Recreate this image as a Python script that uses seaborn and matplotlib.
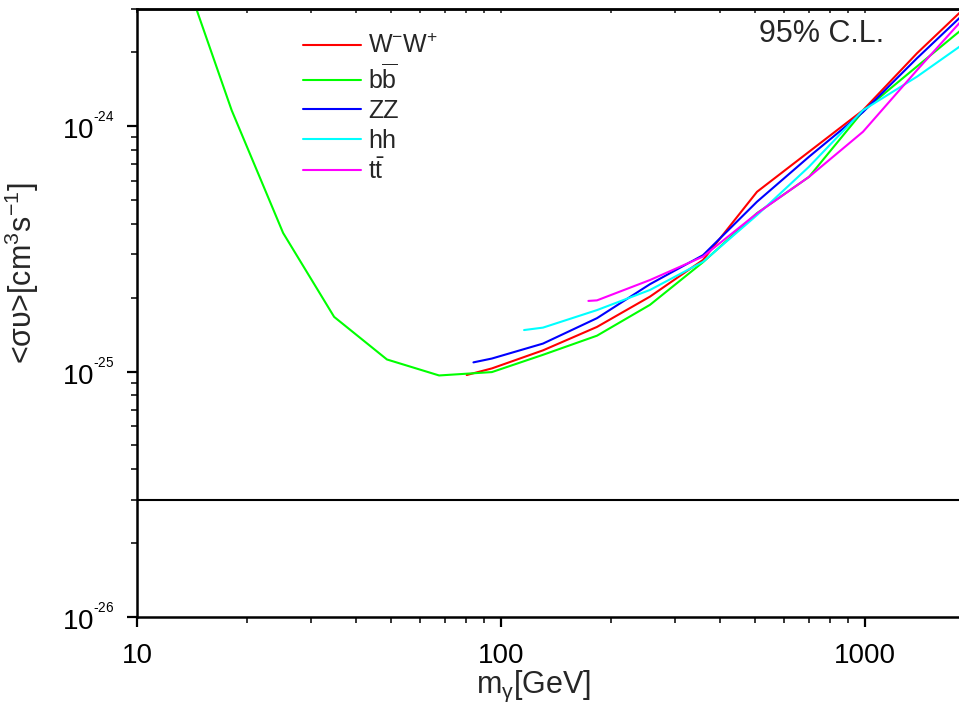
import numpy as np
import pandas as pd
import seaborn as sns
import matplotlib
matplotlib.use("Agg")
import matplotlib.pyplot as plt
from matplotlib.ticker import LogLocator, NullFormatter, FuncFormatter, FixedLocator

# Annihilation cross-section upper limits (95% C.L.) per channel
mass_bb = [13.1, 18.2, 25.2, 34.8, 48.6, 67.6, 94.4, 130.4, 183.5, 256.6, 358.9, 505, 701.6, 987, 1389, 1944]
sv_bb = [4.7e-24, 1.16e-24, 3.67e-25, 1.67e-25, 1.12e-25, 9.64e-26, 9.95e-26, 1.17e-25, 1.40e-25,
         1.87e-25, 2.79e-25, 4.42e-25, 6.21e-25, 1.15e-24, 1.75e-24, 2.64e-24]

mass_ww = [80.5, 94.4, 130.4, 183.5, 256.6, 358.9, 505, 701.6, 987, 1389, 1944]
sv_ww = [9.68e-26, 1.03e-25, 1.22e-25, 1.52e-25, 2.02e-25, 2.85e-25, 5.40e-25, 7.86e-25, 1.16e-24,
         1.98e-24, 3.18e-24]

mass_zz = [84.0, 94.4, 130.4, 183.5, 256.6, 358.9, 505, 701.6, 987, 1389, 1944]
sv_zz = [1.09e-25, 1.13e-25, 1.30e-25, 1.65e-25, 2.27e-25, 2.98e-25, 4.92e-25, 7.50e-25, 1.14e-24,
         1.89e-24, 3.03e-24]

mass_hh = [115.7, 130.4, 183.5, 256.6, 358.9, 505, 701.6, 987, 1389, 1944]
sv_hh = [1.476e-25, 1.51e-25, 1.78e-25, 2.15e-25, 2.80e-25, 4.34e-25, 6.83e-25, 1.16e-24, 1.59e-24, 2.26e-24]

mass_tt = [173.8, 183.5, 256.6, 358.9, 505, 701.6, 987, 1389, 1944]
sv_tt = [1.94e-25, 1.95e-25, 2.36e-25, 2.94e-25, 4.41e-25, 6.21e-25, 9.48e-25, 1.69e-24, 2.94e-24]

thermal_relic = 3.0e-26

x_ticks = [10, 100, 1000]
y_ticks = [1e-26, 1e-25, 1e-24]

labels = ["W$^{-}$W$^{+}$", "b$\\overline{\\mathrm{b}}$", "ZZ", "hh", "t$\\bar{\\mathrm{t}}$"]
colors = ["#ff0000", "#00ff00", "#0000ff", "#00ffff", "#ff00ff"]
series = [(mass_ww, sv_ww), (mass_bb, sv_bb), (mass_zz, sv_zz), (mass_hh, sv_hh), (mass_tt, sv_tt)]

frames = []
for lab, (m, s) in zip(labels, series):
    frames.append(pd.DataFrame({"mass": m, "sigmav": s, "channel": lab}))
df = pd.concat(frames, ignore_index=True)

sns.set_theme(style="white")
plt.rcParams["font.family"] = ["Liberation Sans", "DejaVu Sans"]
plt.rcParams["mathtext.fontset"] = "custom"
plt.rcParams["mathtext.rm"] = "Liberation Sans"
plt.rcParams["mathtext.it"] = "Liberation Sans"
plt.rcParams["mathtext.bf"] = "Liberation Sans:bold"

fig = plt.figure(figsize=(9.59, 7.04), dpi=100)
ax_left = 137 / 959
ax_w = (974.6 - 137) / 959
ax_bottom = (704 - 617) / 704
ax_h = (617 - 9) / 704
ax = fig.add_axes([ax_left, ax_bottom, ax_w, ax_h])

sns.lineplot(data=df, x="mass", y="sigmav", hue="channel", hue_order=labels,
             palette=dict(zip(labels, colors)), sort=False, estimator=None,
             linewidth=1.5, ax=ax, legend=True)

ax.axhline(thermal_relic, color="black", linewidth=1.5)

ax.set_xscale("log")
ax.set_yscale("log")
ax.set_xlim(10, 2000)
ax.set_ylim(1e-26, 3.0e-24)

for side in ["left", "bottom", "top"]:
    ax.spines[side].set_color("black")
    ax.spines[side].set_linewidth(1.8)
ax.spines["right"].set_visible(False)

ax.xaxis.set_major_locator(FixedLocator(x_ticks))
ax.xaxis.set_minor_locator(LogLocator(base=10, subs=np.arange(2, 10), numticks=20))
ax.yaxis.set_major_locator(FixedLocator(y_ticks))
ax.yaxis.set_minor_locator(LogLocator(base=10, subs=np.arange(2, 10), numticks=20))
ax.xaxis.set_minor_formatter(NullFormatter())
ax.yaxis.set_minor_formatter(NullFormatter())
ax.xaxis.set_major_formatter(FuncFormatter(lambda v, p: f"{v:g}"))
ax.yaxis.set_major_formatter(FuncFormatter(
    lambda v, p: "10$^{{}^{\u2010%d}}$" % round(-np.log10(v))))

ax.tick_params(which="major", direction="out", length=7, width=1.6, labelsize=20,
               colors="black", bottom=True, left=True, top=False, right=False)
ax.tick_params(which="minor", direction="out", length=4.5, width=1.3,
               bottom=True, left=True, top=False, right=False)
ax.tick_params(axis="x", which="major", pad=12)
ax.tick_params(axis="y", which="major", pad=9)

# Inward ticks along the top edge
top = ax.secondary_xaxis("top")
top.set_xscale("log")
top.xaxis.set_major_locator(FixedLocator(x_ticks))
top.xaxis.set_minor_locator(LogLocator(base=10, subs=np.arange(2, 10), numticks=20))
top.tick_params(which="both", direction="in", length=3, width=1.2, labeltop=False)
top.spines["top"].set_linewidth(1.8)

ax.set_xlabel("m$_{\\mathrm{γ}}$[GeV]", fontsize=22)
ax.set_ylabel("<συ>[cm$^{3}$s$^{-1}$]", fontsize=22)
ax.xaxis.set_label_coords((534 - 137) / (974.6 - 137), (617 - 669) / 608)
ax.yaxis.set_label_coords((41 - 137) / (974.6 - 137), (617 - 273) / 608)

ax.text(822 / 959, (704 - 34) / 704, "95% C.L.", transform=fig.transFigure, fontsize=22,
        ha="center", va="center")

leg = ax.legend(loc="upper left", bbox_to_anchor=(303 / 959, (704 - 34) / 704),
                bbox_transform=fig.transFigure, frameon=False, fontsize=18,
                handlelength=2.3, handletextpad=0.3, labelspacing=0.22,
                borderpad=0, borderaxespad=0)
for line in leg.get_lines():
    line.set_linewidth(1.5)

fig.savefig("out.png", dpi=100)
